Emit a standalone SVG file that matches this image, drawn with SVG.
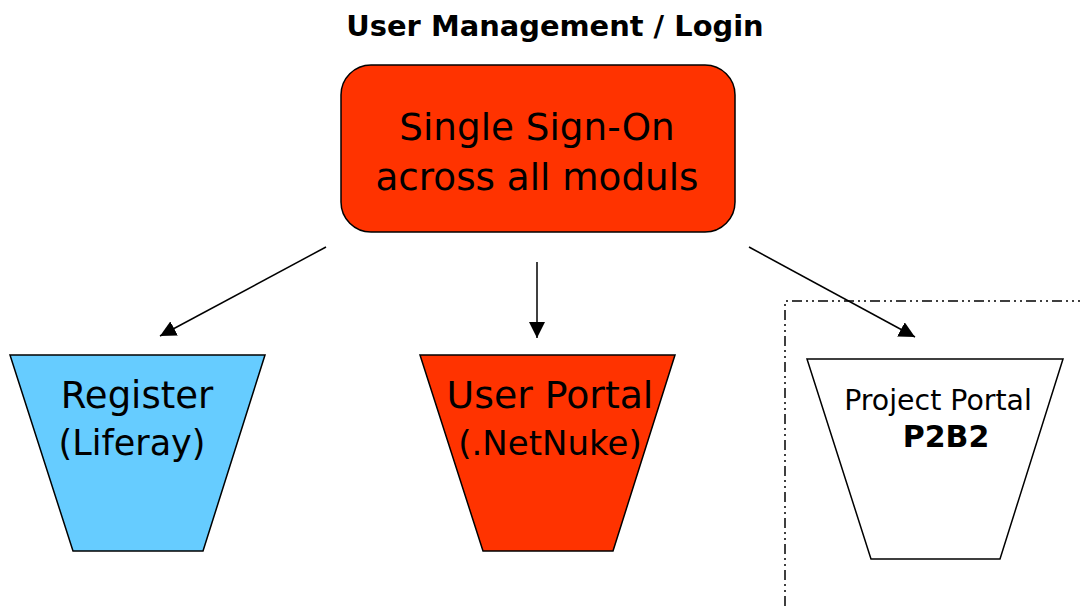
<svg xmlns="http://www.w3.org/2000/svg" width="1080" height="606" viewBox="0 0 1080 606">
<style>
  text { font-family: "DejaVu Sans", "Liberation Sans", sans-serif; fill: #000; text-anchor: middle; }
  .b { font-weight: bold; }
  .shape { stroke: #000; stroke-width: 1.5; }
  .conn { stroke: #000; stroke-width: 1.5; fill: none; }
</style>
<defs>
  <marker id="ah" viewBox="0 0 16 16" refX="16" refY="8" markerWidth="16" markerHeight="16" markerUnits="userSpaceOnUse" orient="auto">
    <path d="M0,0 L16,8 L0,16 Z" fill="#000"/>
  </marker>
</defs>
<rect width="1080" height="606" fill="#fff"/>
<text x="555" y="36" class="b" font-size="28.9">User Management / Login</text>

<g id="frame">
  <path d="M785,606 L785,301 L1080,301" fill="none" stroke="#000" stroke-width="1.5" stroke-dasharray="10,4,2,4,2,4"/>
</g>

<g id="sso">
  <rect x="341" y="65" width="394" height="167" rx="30" ry="30" fill="#FF3300" class="shape"/>
  <text x="537" y="140" font-size="37.3">Single Sign-On</text>
  <text x="537" y="190" font-size="37.3">across all moduls</text>
</g>

<g id="register">
  <polygon points="10,355 265,355 203,551 73,551" fill="#66CCFF" class="shape"/>
  <text x="137" y="408" font-size="37">Register</text>
  <text x="132" y="455" font-size="35">(Liferay)</text>
</g>

<g id="userportal">
  <polygon points="420,355 675,355 613,551 483,551" fill="#FF3300" class="shape"/>
  <text x="550" y="408" font-size="37.8">User Portal</text>
  <text x="550" y="455" font-size="34">(.NetNuke)</text>
</g>

<g id="projectportal">
  <polygon points="807,359 1063,359 1000,559 871,559" fill="#fff" class="shape"/>
  <text x="938" y="410" font-size="28.4">Project Portal</text>
  <text x="946" y="447" font-size="30" class="b">P2B2</text>
</g>

<g id="connectors">
  <line x1="326" y1="247" x2="160" y2="336" class="conn" marker-end="url(#ah)"/>
  <line x1="537" y1="262" x2="537" y2="338" class="conn" marker-end="url(#ah)"/>
  <line x1="749" y1="247" x2="915" y2="337" class="conn" marker-end="url(#ah)"/>
</g>
</svg>
